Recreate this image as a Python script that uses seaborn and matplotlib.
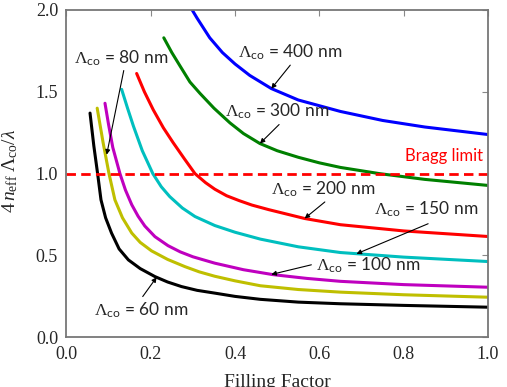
import matplotlib
matplotlib.use("Agg")
import matplotlib.pyplot as plt
import seaborn as sns
import pandas as pd

# ---- data ----
labels = ["60 nm", "80 nm", "100 nm", "150 nm", "200 nm", "300 nm", "400 nm"]

f_60 = [0.056, 0.065, 0.074, 0.082, 0.093, 0.107, 0.125, 0.147, 0.175, 0.21, 0.24, 0.273,
        0.31, 0.352, 0.40, 0.46, 0.55, 0.65, 0.8, 1.0]
y_60 = [1.37, 1.17, 1.00, 0.84, 0.73, 0.637, 0.54, 0.473, 0.42, 0.371, 0.338, 0.31,
        0.287, 0.27, 0.25, 0.232, 0.215, 0.205, 0.195, 0.184]

f_80 = [0.073, 0.087, 0.101, 0.115, 0.133, 0.155, 0.175, 0.202, 0.24, 0.281, 0.315, 0.352,
        0.40, 0.46, 0.55, 0.65, 0.8, 1.0]
y_80 = [1.40, 1.19, 1.00, 0.84, 0.73, 0.637, 0.58, 0.528, 0.476, 0.432, 0.40, 0.373,
        0.345, 0.315, 0.292, 0.276, 0.26, 0.245]

f_100 = [0.0915, 0.10, 0.11, 0.127, 0.14, 0.155, 0.17, 0.186, 0.21, 0.241, 0.27, 0.30,
         0.352, 0.42, 0.49, 0.57, 0.65, 0.8, 1.0]
y_100 = [1.43, 1.30, 1.16, 1.00, 0.90, 0.81, 0.74, 0.68, 0.615, 0.56, 0.522, 0.492,
         0.453, 0.413, 0.383, 0.36, 0.342, 0.322, 0.306]

f_150 = [0.131, 0.145, 0.159, 0.18, 0.205, 0.225, 0.245, 0.275, 0.305, 0.352, 0.40, 0.46,
         0.55, 0.65, 0.8, 1.0]
y_150 = [1.515, 1.40, 1.29, 1.14, 1.00, 0.92, 0.86, 0.79, 0.738, 0.683, 0.642, 0.60,
         0.553, 0.518, 0.49, 0.463]

f_200 = [0.1666, 0.185, 0.206, 0.23, 0.253, 0.28, 0.305, 0.33, 0.352, 0.38, 0.41, 0.44,
         0.48, 0.565, 0.65, 0.8, 1.0]
y_200 = [1.612, 1.50, 1.39, 1.28, 1.19, 1.09, 1.00, 0.945, 0.905, 0.865, 0.835, 0.808,
         0.78, 0.726, 0.688, 0.65, 0.616]

f_300 = [0.231, 0.25, 0.269, 0.293, 0.317, 0.35, 0.388, 0.42, 0.459, 0.50, 0.55, 0.60,
         0.65, 0.743, 0.85, 1.0]
y_300 = [1.83, 1.74, 1.66, 1.56, 1.49, 1.40, 1.31, 1.245, 1.184, 1.14, 1.10, 1.066,
         1.038, 1.00, 0.965, 0.928]

f_400 = [0.296, 0.31, 0.34, 0.37, 0.40, 0.435, 0.486, 0.55, 0.65, 0.75, 0.85, 1.0]
y_400 = [2.01, 1.95, 1.83, 1.74, 1.67, 1.60, 1.52, 1.45, 1.38, 1.325, 1.285, 1.239]

bragg_limit = 1.0

xs = [f_60, f_80, f_100, f_150, f_200, f_300, f_400]
ys = [y_60, y_80, y_100, y_150, y_200, y_300, y_400]
colors = ["#000000", "#bfbf00", "#bf00bf", "#00bfbf", "#ff0000", "#008000", "#0000ff"]

rows = []
for lab, fx, fy in zip(labels, xs, ys):
    for a, b in zip(fx, fy):
        rows.append({"period": lab, "ff": a, "val": b})
df = pd.DataFrame(rows)

# ---- styling ----
sns.set_style("white")
plt.rcParams["font.family"] = ["Liberation Serif", "DejaVu Serif"]
plt.rcParams["mathtext.fontset"] = "custom"
plt.rcParams["mathtext.rm"] = "Liberation Serif"
plt.rcParams["mathtext.it"] = "Liberation Serif:italic"
plt.rcParams["mathtext.sf"] = "Lato"

fig = plt.figure(figsize=(5.07, 3.87), dpi=100)
ax = fig.add_axes([0.131, 0.1284, 0.8315, 0.8458])

sns.lineplot(data=df, x="ff", y="val", hue="period", palette=dict(zip(labels, colors)),
             sort=False, estimator=None, legend=False, lw=2.2, ax=ax)
for ln in ax.lines:
    ln.set_solid_joinstyle("round")

ax.axhline(bragg_limit, color="red", lw=2.0, ls=(0, (3.4, 1.9)))

ax.set_xlim(0, 1.0)
ax.set_ylim(0, 2.0)
ax.set_xticks([0, 0.2, 0.4, 0.6, 0.8, 1.0])
ax.set_yticks([0, 0.5, 1.0, 1.5, 2.0])
ax.set_xticklabels(["0.0", "0.2", "0.4", "0.6", "0.8", "1.0"])
ax.set_yticklabels(["0.0", "0.5", "1.0", "1.5", "2.0"])
ax.tick_params(direction="in", length=4, width=0.8, color="#888888",
               top=True, right=True, labelsize=13, pad=6)
for s in ax.spines.values():
    s.set_color("#777777")
    s.set_linewidth(1.3)

ax.set_xlabel("Filling Factor", fontsize=14)
ax.xaxis.set_label_coords(0.5, -0.112)
ax.set_ylabel(r"$4\,n_{\mathrm{eff}}\;\Lambda_{\mathrm{co}}/\lambda$", fontsize=14)
ax.yaxis.set_label_coords(-0.11, 0.51)

def lab(t):
    return r"$\Lambda_{\mathsf{co}}$" + " = " + t

aprops = dict(arrowstyle="-|>", color="black", lw=0.8, mutation_scale=7,
              shrinkA=0, shrinkB=0)
tkw = dict(fontsize=12.5, family="Lato", ha="center", va="center")

ax.text(0.1305, 1.706, lab("80 nm"), **tkw)
ax.annotate("", xy=(0.0955, 1.116), xytext=(0.136, 1.63), arrowprops=aprops)
ax.text(0.53, 1.743, lab("400 nm"), **tkw)
ax.annotate("", xy=(0.486, 1.519), xytext=(0.531, 1.663), arrowprops=aprops)
ax.text(0.499, 1.381, lab("300 nm"), **tkw)
ax.annotate("", xy=(0.459, 1.184), xytext=(0.5045, 1.30), arrowprops=aprops)
ax.text(0.61, 0.902, lab("200 nm"), **tkw)
ax.annotate("", xy=(0.565, 0.726), xytext=(0.613, 0.827), arrowprops=aprops)
ax.text(0.854, 0.78, lab("150 nm"), **tkw)
ax.annotate("", xy=(0.688, 0.51), xytext=(0.858, 0.694), arrowprops=aprops)
ax.text(0.717, 0.437, lab("100 nm"), **tkw)
ax.annotate("", xy=(0.486, 0.384), xytext=(0.581, 0.443), arrowprops=aprops)
ax.text(0.177, 0.167, lab("60 nm"), **tkw)
ax.annotate("", xy=(0.214, 0.367), xytext=(0.181, 0.249), arrowprops=aprops)

ax.text(0.987, 1.106, "Bragg limit", color="red", fontsize=12, family="Lato",
        ha="right", va="center")

fig.savefig("out.png", dpi=100)
